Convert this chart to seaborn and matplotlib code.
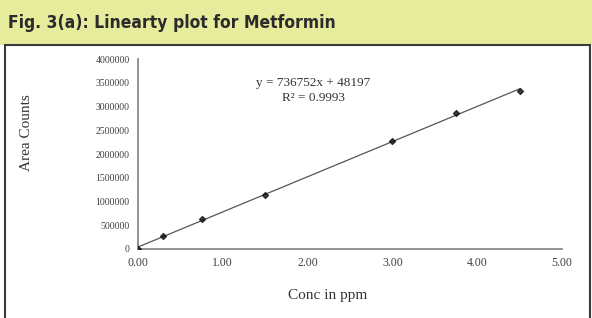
import matplotlib
matplotlib.use("Agg")
import matplotlib.pyplot as plt
import matplotlib.patches as patches
import seaborn as sns
import numpy as np
import pandas as pd

# calibration data
conc_ppm = [0.0, 0.3, 0.75, 1.5, 3.0, 3.75, 4.5]
area_counts = [0, 275000, 628000, 1143000, 2271000, 2857000, 3329000]
x_ticks = [0, 1, 2, 3, 4, 5]
y_ticks = [0, 500000, 1000000, 1500000, 2000000, 2500000, 3000000, 3500000, 4000000]
equation = "y = 736752x + 48197"
r_squared = "R\u00b2 = 0.9993"

df = pd.DataFrame({"conc": conc_ppm, "area": area_counts})

sns.set_style("white")
plt.rcParams['font.family'] = ['Liberation Serif', 'DejaVu Serif']

W, H = 592, 318
fig = plt.figure(figsize=(W / 100, H / 100), dpi=100)

# header band and frame
fig.patches.append(patches.Rectangle((0, 1 - 45 / H), 1, 45 / H, transform=fig.transFigure,
                                     facecolor='#e7eb9c', edgecolor='none', zorder=-2))
fig.patches.append(patches.Rectangle((5 / W, -0.05), 585 / W, 0.05 + 1 - 45 / H,
                                     transform=fig.transFigure, facecolor='white',
                                     edgecolor='#3a3a3a', linewidth=1.5, zorder=-2))
fig.text(8 / W, 1 - 23 / H, "Fig. 3(a): Linearty plot for Metformin",
         family=['DejaVu Sans'], fontstretch='condensed', fontweight='bold',
         fontsize=12.5, color='#2b2b2b', va='center', ha='left')

ax = fig.add_axes([138 / W, 1 - 249 / H, 424 / W, 190 / H])
ax.set_facecolor('none')

sns.regplot(data=df, x="conc", y="area", ax=ax, ci=None, marker='D',
            scatter_kws={'s': 9, 'color': '#111111', 'zorder': 3},
            line_kws={'color': '#555555', 'linewidth': 0.9})

ax.set_xlim(0, 5)
ax.set_ylim(0, 4000000)
ax.set_xticks(x_ticks)
ax.set_xticklabels([f"{v:.2f}" for v in x_ticks], fontsize=8.5, color='#404040')
ax.set_yticks(y_ticks)
ax.set_yticklabels([str(v) for v in y_ticks], fontsize=7, color='#404040')
ax.tick_params(axis='both', direction='out', length=3, width=0.8, color='#808080', pad=3)

for side in ['top', 'right']:
    ax.spines[side].set_visible(False)
for side in ['left', 'bottom']:
    ax.spines[side].set_color('#808080')
    ax.spines[side].set_linewidth(1.2)

ax.set_xlabel("")
ax.set_ylabel("")
fig.text(328 / W, 1 - 295 / H, "Conc in ppm", fontsize=11, color='#333333', ha='center', va='center')
fig.text(27 / W, 1 - 133 / H, "Area Counts", fontsize=11, color='#333333', rotation=90,
         ha='center', va='center')

ax.text(2.06, 3495000, equation, fontsize=9.5, color='#333333', ha='center', va='center')
ax.text(2.07, 3179000, r_squared, fontsize=9.5, color='#333333', ha='center', va='center')

fig.savefig("out.png", dpi=100)
